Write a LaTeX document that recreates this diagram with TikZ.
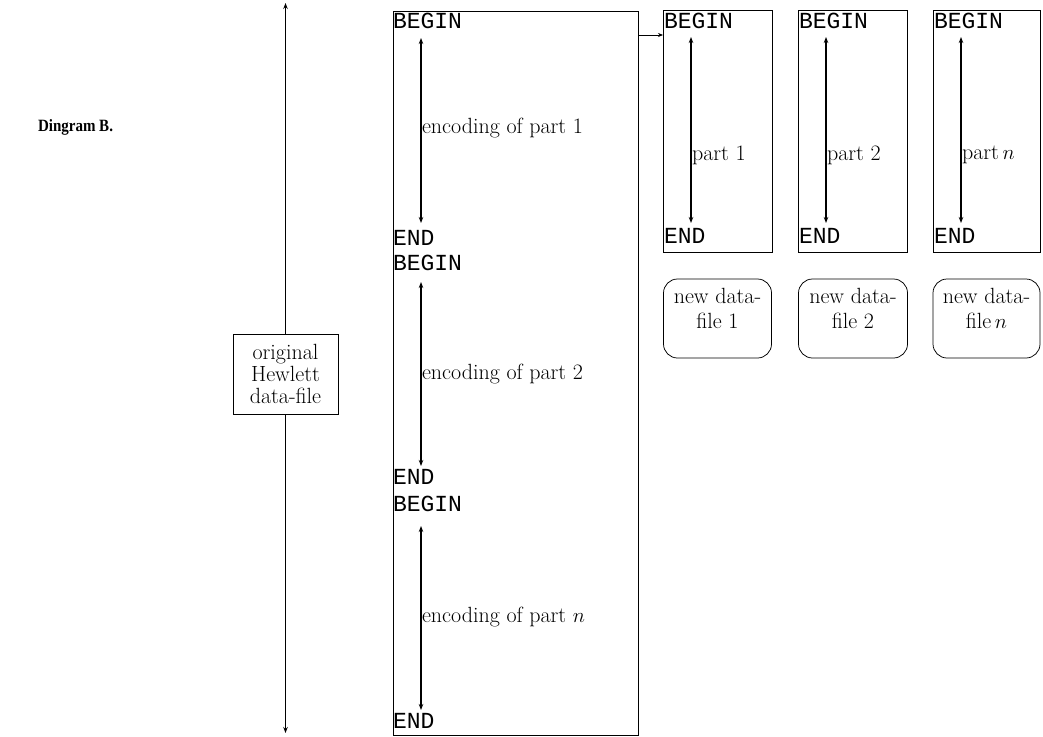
\documentclass[tikz,border=0pt]{standalone}
\usepackage{fontspec}
\newfontfamily\codefont{Liberation Mono}
\newfontfamily\titlefont{Liberation Serif}
\usetikzlibrary{arrows.meta}
\begin{document}
\begin{tikzpicture}[x=1pt,y=-1pt,
  every node/.style={inner sep=0pt, outer sep=0pt},
  ln/.style={line width=1.1pt},
  bx/.style={line width=0.75pt},
  dbl/.style={ln, {Stealth[length=6pt,width=4.5pt]}-{Stealth[length=6pt,width=4.5pt]}},
  kw/.style={font=\codefont\fontsize{23}{23}\selectfont, anchor=base west},
  lbl/.style={font=\fontsize{22}{24}\selectfont, anchor=west},
  txt/.style={font=\fontsize{22}{25}\selectfont, align=center},
  filebox/.style={draw, bx, anchor=north west},
  roundbox/.style={draw, bx, rounded corners=14pt, minimum height=79pt},
]
\useasboundingbox (0,0) rectangle (1043,736);

\node[font=\titlefont\bfseries\fontsize{15}{18}\selectfont, anchor=west, yscale=1.15] (title) at (38,127) {Dingram B.};

% original file
\node[draw, bx, font=\fontsize{22}{22}\selectfont, align=center, minimum width=105pt, minimum height=80pt] (orig) at (285.5,374) {original\\Hewlett\\data-file};
\coordinate (Ltop) at (285.5,3);
\coordinate (Lbot) at (285.5,733);
\draw[ln, -{Stealth[length=6pt,width=4.5pt]}] (orig.north) -- (Ltop);
\draw[ln, -{Stealth[length=6pt,width=4.5pt]}] (orig.south) -- (Lbot);

% big box
\node[filebox, minimum width=245pt, minimum height=724pt] (big) at (393,11) {};
\node[kw] (b1) at (393,28) {BEGIN};
\node[kw] (e1) at (393,245) {END};
\node[kw] (b2) at (393,270) {BEGIN};
\node[kw] (e2) at (393,484) {END};
\node[kw] (b3) at (393,511) {BEGIN};
\node[kw] (e3) at (393,728) {END};
\coordinate (a1t) at (421,38);  \coordinate (a1b) at (421,223);
\coordinate (a2t) at (421,282); \coordinate (a2b) at (421,466);
\coordinate (a3t) at (421,526); \coordinate (a3b) at (421,710);
\draw[dbl] (a1t) -- (a1b);
\draw[dbl] (a2t) -- (a2b);
\draw[dbl] (a3t) -- (a3b);
\node[lbl] (l1) at (422,128) {encoding of part 1};
\node[lbl] (l2) at (422,374) {encoding of part 2};
\node[lbl] (l3) at (422,617) {encoding of part $n$};

% small boxes
\node[filebox, minimum width=109pt, minimum height=242pt] (s1) at (663,10) {};
\node[filebox, minimum width=109pt, minimum height=242pt] (s2) at (798,10) {};
\node[filebox, minimum width=107pt, minimum height=242pt] (s3) at (933,10) {};
\node[kw] (sb1) at (664,28) {BEGIN};
\node[kw] (sb2) at (799,28) {BEGIN};
\node[kw] (sb3) at (934,28) {BEGIN};
\node[kw] (se1) at (664,243) {END};
\node[kw] (se2) at (799,243) {END};
\node[kw] (se3) at (934,243) {END};
\coordinate (p1t) at (691,37); \coordinate (p1b) at (691,223);
\coordinate (p2t) at (826,37); \coordinate (p2b) at (826,223);
\coordinate (p3t) at (961,37); \coordinate (p3b) at (961,223);
\draw[dbl] (p1t) -- (p1b);
\draw[dbl] (p2t) -- (p2b);
\draw[dbl] (p3t) -- (p3b);
\node[lbl] (pl1) at (692,155) {part 1};
\node[lbl] (pl2) at (827,155) {part 2};
\node[lbl] (pl3) at (962,155) {part\,$n$};

% connector
\coordinate (c1) at (638,35);
\draw[line width=0.7pt, -{Stealth[length=5pt,width=4pt]}] (c1) -- (c1 -| s1.west);

% rounded boxes
\node[roundbox, minimum width=108pt] (n1) at (717.5,318.5) {};
\node[roundbox, minimum width=109pt] (n2) at (853,318.5) {};
\node[roundbox, minimum width=107pt] (n3) at (986.5,318.5) {};
\node[txt, anchor=north] (t1) at (717.5,288) {new data-\\file 1};
\node[txt, anchor=north] (t2) at (853,288) {new data-\\file 2};
\node[txt, anchor=north] (t3) at (986.5,288) {new data-\\file\,$n$};
\end{tikzpicture}
\end{document}
